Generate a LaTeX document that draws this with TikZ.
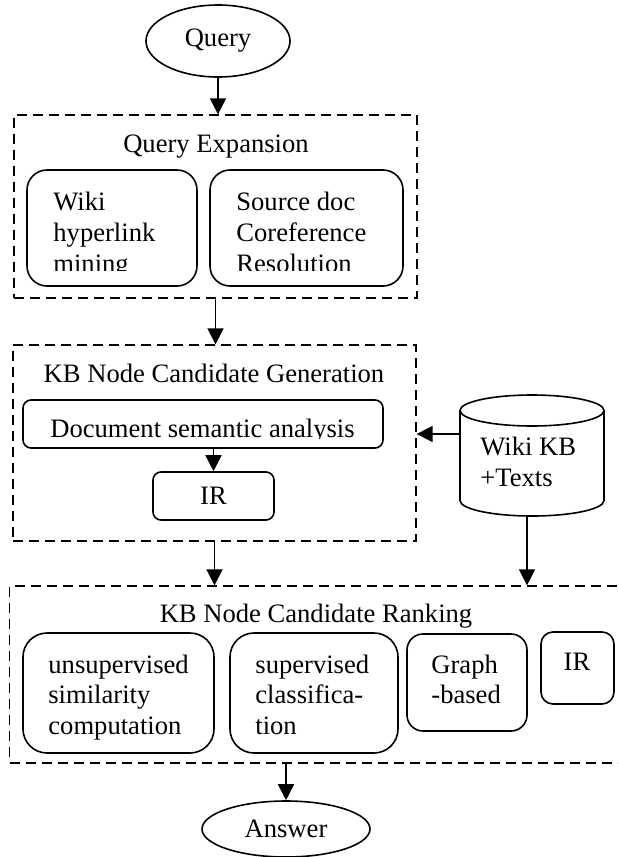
\documentclass[tikz,border=0pt]{standalone}
\usepackage{fontspec}
\setmainfont{Liberation Serif}
\usetikzlibrary{arrows.meta,shapes.geometric}
\begin{document}
\begin{tikzpicture}[x=0.5pt,y=-0.5pt,
  every node/.style={font=\fontsize{13.3}{15}\selectfont},
  grp/.style={draw, dash pattern=on 5pt off 3pt, line width=0.65pt, rectangle, inner sep=0pt},
  rbox/.style={draw, line width=0.8pt, rectangle, rounded corners=#1, inner sep=0pt},
  rbox/.default=5pt,
  ell/.style={draw, ellipse, line width=0.8pt, inner sep=0pt},
  txt/.style={inner sep=0pt, anchor=base west},
  ctxt/.style={inner sep=0pt, anchor=base},
  arr/.style={line width=0.8pt, -{Triangle[width=8pt,length=8pt]}}]
\useasboundingbox (0,0) rectangle (618,857);
\clip (0,0) rectangle (618,857);

% Query
\node[ell, minimum width=72pt, minimum height=36pt] (query) at (218,41) {Query};

% Query Expansion group
\node[grp, minimum width=201.5pt, minimum height=91.5pt] (qe) at (215.5,206.5) {};
\node[ctxt] (qet) at (216,152) {Query Expansion};
\node[rbox=10pt, minimum width=85pt, minimum height=58pt] (wikih) at (112,228) {};
\node[rbox=10pt, minimum width=96.5pt, minimum height=58pt] (srcdoc) at (306.5,228) {};
\begin{scope}
  \clip (0,0) rectangle (618,270);
  \node[txt] (w1) at (53,210) {Wiki};
  \node[txt] (w2) at (53,241) {hyperlink};
  \node[txt] (w3) at (53,272) {mining};
  \node[txt] (s1) at (236,210) {Source doc};
  \node[txt] (s2) at (236,241) {Coreference};
  \node[txt] (s3) at (236,272) {Resolution};
\end{scope}

% KB Node Candidate Generation group
\node[grp, minimum width=201.5pt, minimum height=98pt] (gen) at (214.5,443) {};
\node[ctxt] (gent) at (214,382) {KB Node Candidate Generation};
\node[rbox=4pt, minimum width=180pt, minimum height=24pt] (doc) at (203,424) {};
\begin{scope}
  \clip (0,0) rectangle (618,438);
  \node[ctxt] (doct) at (202.5,437) {Document semantic analysis};
\end{scope}
\node[rbox=4pt, minimum width=60.5pt, minimum height=24pt] (irg) at (213.5,496) {IR};

% Wiki KB cylinder
\node[inner sep=0pt, minimum width=72pt, minimum height=60.5pt] (kb) at (532,455.5) {};
\draw[line width=0.8pt] (460,410.5) -- (460,500.5)
  arc[start angle=180, end angle=0, x radius=72, y radius=15.5] -- (604,410.5);
\draw[line width=0.8pt] (532,410.5) ellipse [x radius=72, y radius=15.5];
\node[txt] (kb1) at (480,455) {Wiki KB};
\node[txt] (kb2) at (480,486) {+Texts};

% KB Node Candidate Ranking group
\node[grp, minimum width=315.5pt, minimum height=88.5pt] (rank) at (325,674.5) {};
\node[ctxt] (rankt) at (316,622) {KB Node Candidate Ranking};
\node[rbox=12pt, minimum width=95.5pt, minimum height=60pt] (unsup) at (118.5,693) {};
\node[txt] (u1) at (48,673) {unsupervised};
\node[txt] (u2) at (48,703) {similarity};
\node[txt] (u3) at (48,734) {computation};
\node[rbox=12pt, minimum width=84pt, minimum height=60pt] (sup) at (314,693) {};
\node[txt] (p1) at (255,673) {supervised};
\node[txt] (p2) at (255,703) {classifica-};
\node[txt] (p3) at (255,734) {tion};
\node[rbox=8pt, minimum width=60pt, minimum height=48.5pt] (graph) at (467,682.5) {};
\node[txt] (g1) at (431,673) {Graph};
\node[txt] (g2) at (431,703) {-based};
\node[rbox=6pt, minimum width=36.5pt, minimum height=36pt] (ir2) at (577.5,668) {};
\node[ctxt] (ir2t) at (577,670) {IR};

% Answer
\node[ell, minimum width=84pt, minimum height=28pt] (answer) at (286,829) {Answer};

% connectors
\draw[arr] (query.south) -- (query.south |- qe.north);
\draw[arr] (qe.south) -- (qe.south |- gen.north);
\draw[arr] (irg.north |- doc.south) -- (irg.north);
\draw[arr] ([yshift=10.75pt]kb.west) -- ([yshift=10.75pt]kb.west -| gen.east);
\draw[arr] ([xshift=-2.5pt]kb.south) -- ([xshift=-2.5pt]kb.south |- rank.north);
\draw[arr] (gen.south) -- (gen.south |- rank.north);
\draw[arr] (answer.north |- rank.south) -- (answer.north);
\end{tikzpicture}
\end{document}
